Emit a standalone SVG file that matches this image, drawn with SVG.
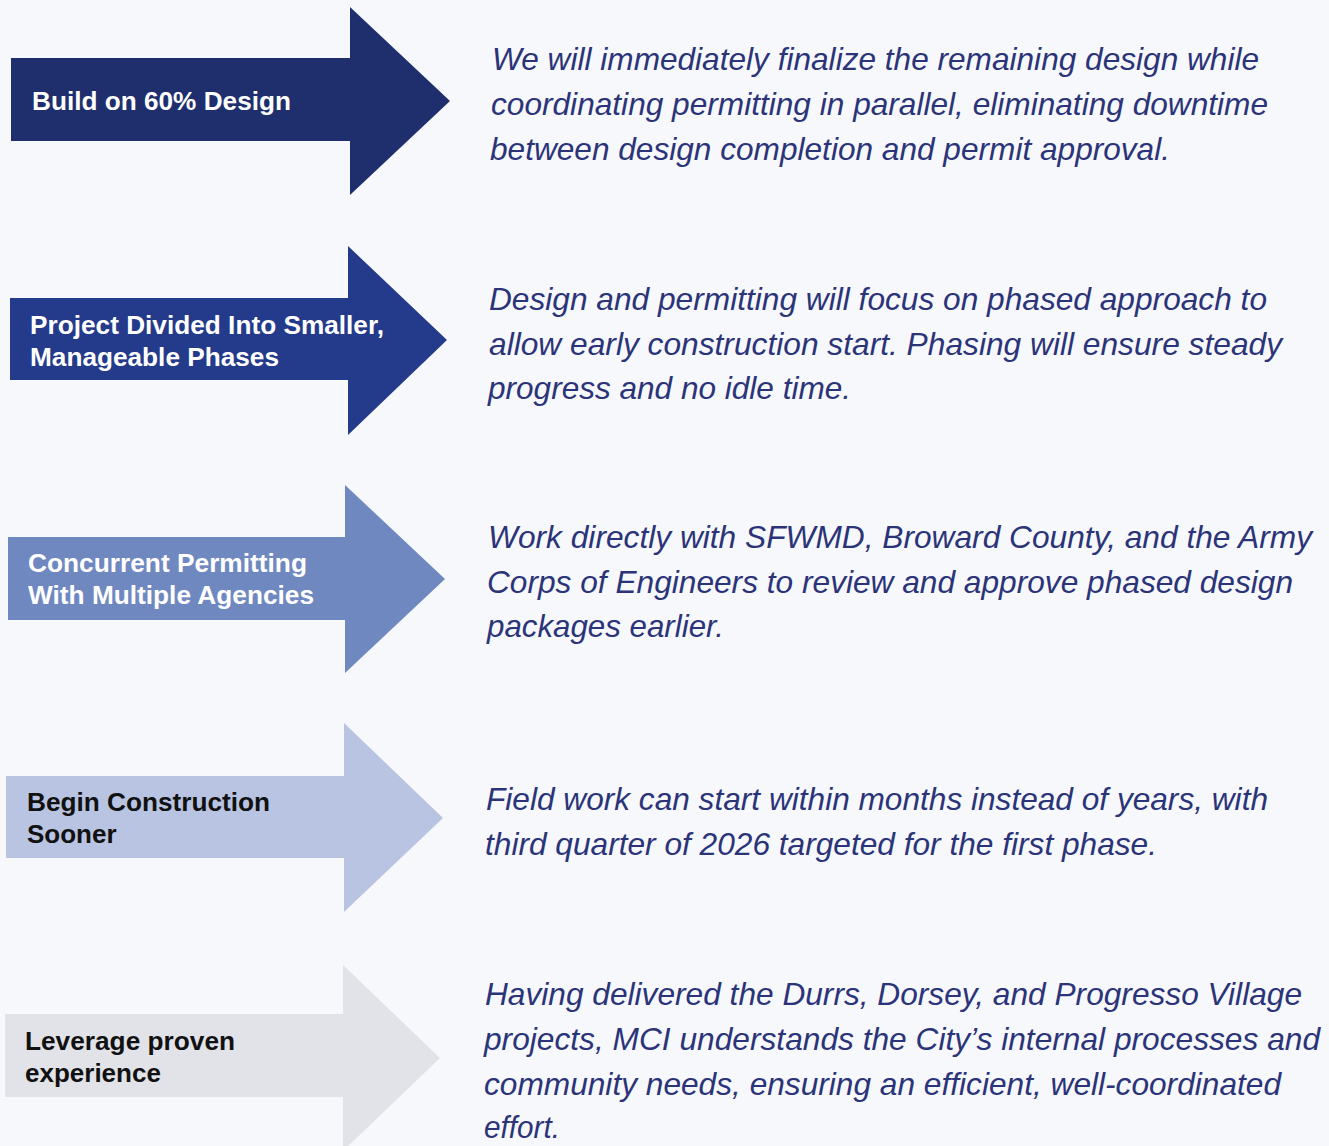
<svg xmlns="http://www.w3.org/2000/svg" width="1329" height="1146" viewBox="0 0 1329 1146">
<style>
.lbl{font-family:"Liberation Sans",Arial,sans-serif;font-weight:bold;font-size:26px}
.w{fill:#ffffff}
.k{fill:#111111}
.body{font-family:"Liberation Sans",Arial,sans-serif;font-style:italic;font-size:32px;fill:#2b3479}
</style>
<rect x="0" y="0" width="1329" height="1146" fill="#f7f8fb"/>
<g id="connectors"></g>
<g id="node1">
<polygon points="11,58 350,58 350,7 450,101 350,195 350,141 11,141" fill="#1f2e6c"/>
<text class="lbl w" x="32" y="110" textLength="259" lengthAdjust="spacingAndGlyphs">Build on 60% Design</text>
</g>
<g id="text1" class="body">
<text x="492" y="70" textLength="767" lengthAdjust="spacingAndGlyphs">We will immediately finalize the remaining design while</text>
<text x="491" y="115" textLength="777" lengthAdjust="spacingAndGlyphs">coordinating permitting in parallel, eliminating downtime</text>
<text x="490" y="160" textLength="680" lengthAdjust="spacingAndGlyphs">between design completion and permit approval.</text>
</g>
<g id="node2">
<polygon points="10,298 348,298 348,246 447,340 348,435 348,380 10,380" fill="#243a8a"/>
<text class="lbl w" x="30" y="334" textLength="354" lengthAdjust="spacingAndGlyphs">Project Divided Into Smaller,</text>
<text class="lbl w" x="30" y="366" textLength="249" lengthAdjust="spacingAndGlyphs">Manageable Phases</text>
</g>
<g id="text2" class="body">
<text x="489" y="310" textLength="778" lengthAdjust="spacingAndGlyphs">Design and permitting will focus on phased approach to</text>
<text x="489" y="355" textLength="793" lengthAdjust="spacingAndGlyphs">allow early construction start. Phasing will ensure steady</text>
<text x="488" y="399" textLength="363" lengthAdjust="spacingAndGlyphs">progress and no idle time.</text>
</g>
<g id="node3">
<polygon points="8,537 345,537 345,485 445,579 345,673 345,620 8,620" fill="#6f88bf"/>
<text class="lbl w" x="28" y="572" textLength="279" lengthAdjust="spacingAndGlyphs">Concurrent Permitting</text>
<text class="lbl w" x="28" y="604" textLength="286" lengthAdjust="spacingAndGlyphs">With Multiple Agencies</text>
</g>
<g id="text3" class="body">
<text x="488" y="548" textLength="824" lengthAdjust="spacingAndGlyphs">Work directly with SFWMD, Broward County, and the Army</text>
<text x="487" y="593" textLength="806" lengthAdjust="spacingAndGlyphs">Corps of Engineers to review and approve phased design</text>
<text x="487" y="637" textLength="237" lengthAdjust="spacingAndGlyphs">packages earlier.</text>
</g>
<g id="node4">
<polygon points="6,776 344,776 344,723 443,818 344,912 344,858 6,858" fill="#b9c4e2"/>
<text class="lbl k" x="27" y="811" textLength="243" lengthAdjust="spacingAndGlyphs">Begin Construction</text>
<text class="lbl k" x="27" y="843">Sooner</text>
</g>
<g id="text4" class="body">
<text x="486" y="810" textLength="782" lengthAdjust="spacingAndGlyphs">Field work can start within months instead of years, with</text>
<text x="485" y="855" textLength="672" lengthAdjust="spacingAndGlyphs">third quarter of 2026 targeted for the first phase.</text>
</g>
<g id="node5">
<polygon points="5,1014 343,1014 343,965 440,1058 343,1151 343,1097 5,1097" fill="#e1e3e9"/>
<text class="lbl k" x="25" y="1050" textLength="210" lengthAdjust="spacingAndGlyphs">Leverage proven</text>
<text class="lbl k" x="25" y="1082">experience</text>
</g>
<g id="text5" class="body">
<text x="485" y="1005" textLength="817" lengthAdjust="spacingAndGlyphs">Having delivered the Durrs, Dorsey, and Progresso Village</text>
<text x="484" y="1050" textLength="836" lengthAdjust="spacingAndGlyphs">projects, MCI understands the City’s internal processes and</text>
<text x="484" y="1095" textLength="797" lengthAdjust="spacingAndGlyphs">community needs, ensuring an efficient, well-coordinated</text>
<text x="484" y="1138" textLength="76" lengthAdjust="spacingAndGlyphs">effort.</text>
</g>
</svg>
